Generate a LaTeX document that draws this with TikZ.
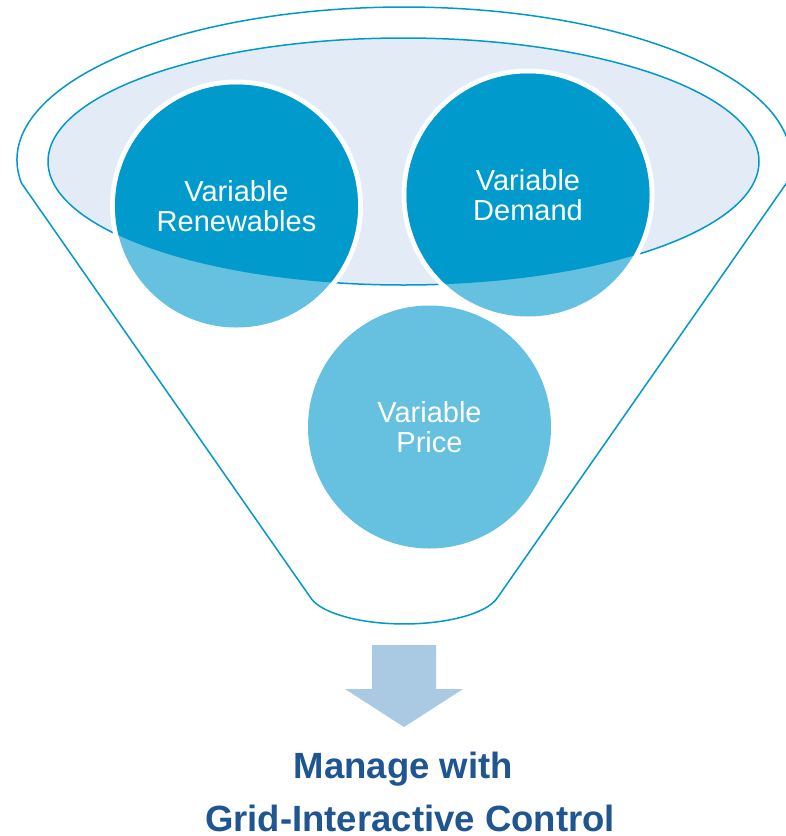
\documentclass[tikz,border=0pt]{standalone}
\usepackage{fontspec}
\setmainfont{Liberation Sans}
\definecolor{lineblue}{RGB}{0,153,204}
\definecolor{ellfill}{RGB}{227,236,246}
\definecolor{cdark}{RGB}{0,155,204}
\definecolor{clight}{RGB}{102,192,224}
\definecolor{arrowc}{RGB}{169,202,226}
\definecolor{titleblue}{RGB}{31,85,144}
\tikzset{
  funnel/.style={draw=lineblue, line width=1.5pt, line join=round},
  lbl/.style={text=white, align=center, inner sep=0pt, font=\fontsize{29}{29.5}\selectfont},
  btitle/.style={text=titleblue, inner sep=0pt, font=\fontsize{36.5}{40}\selectfont\bfseries}
}
\begin{document}
\begin{tikzpicture}[x=1pt,y=-1pt]
\clip (0,0) rectangle (786,836);
\fill[white] (0,0) rectangle (786,836);
% funnel outline
\draw[funnel] (21.4,183) arc[start angle=188.64, end angle=-8.64, x radius=387pt, y radius=153pt]
  -- (498,596.9) arc[start angle=348.2, end angle=191.8, x radius=96pt, y radius=34pt] -- cycle;
% inner ellipse
\draw[fill=ellfill, draw=lineblue, line width=1.5pt] (403.5,161.5) ellipse [x radius=355.5pt, y radius=123.5pt];
% circles
\coordinate (cren) at (236.5,206);
\coordinate (cdem) at (528,195);
\coordinate (cpri) at (429.5,427);
\foreach \c in {cren,cdem,cpri}{
  \fill[white] (\c) circle[radius=126.5pt];
}
\foreach \c in {cren,cdem,cpri}{
  \fill[clight] (\c) circle[radius=121.5pt];
}
\begin{scope}
  \clip (403.5,161.5) ellipse [x radius=355.5pt, y radius=123.5pt];
  \fill[cdark] (cren) circle[radius=121.5pt];
  \fill[cdark] (cdem) circle[radius=121.5pt];
\end{scope}
\node[lbl] (tren) at (cren) {Variable\\Renewables};
\node[lbl] (tdem) at (cdem) {Variable\\Demand};
\node[lbl] (tpri) at (cpri) {Variable\\Price};
% arrow
\fill[arrowc] (372,645) -- (436,645) -- (436,689) -- (463,689) -- (404,727) -- (345,689) -- (372,689) -- cycle;
% title
\node[btitle, anchor=base] (t1) at (403.5,778) {Manage with};
\node[btitle, anchor=base] (t2) at (410,831) {Grid-Interactive Control};
\end{tikzpicture}
\end{document}
